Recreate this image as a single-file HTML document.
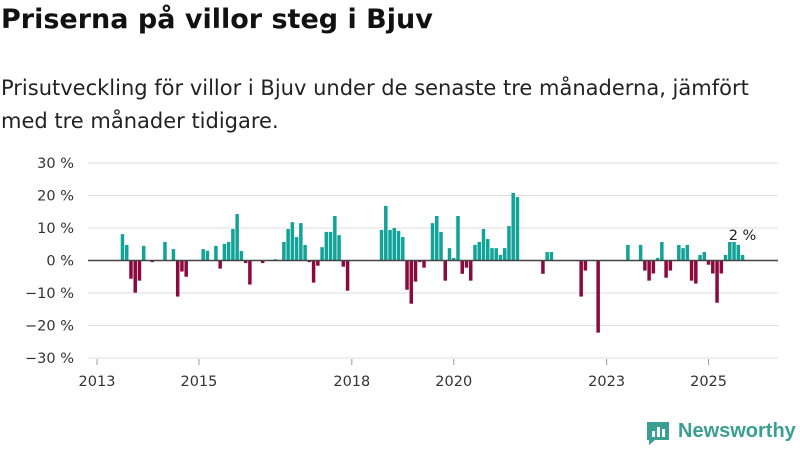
<!DOCTYPE html>
<html><head><meta charset="utf-8">
<style>
body{margin:0;width:800px;height:450px;background:#fff;font-family:"DejaVu Sans",sans-serif;overflow:hidden;position:relative}
h1{position:absolute;left:1px;top:4px;margin:0;font-size:27px;font-weight:bold;color:#111;white-space:nowrap}
p{position:absolute;left:1px;top:72px;margin:0;font-size:21px;line-height:33px;color:#222;width:772px}
svg{position:absolute;left:0;top:0}
.logo{position:absolute;left:645px;top:420px;font-family:"Liberation Sans",sans-serif;font-size:20px;font-weight:bold;color:#3a9e92}
</style></head><body>
<h1>Priserna på villor steg i Bjuv</h1>
<p>Prisutveckling för villor i Bjuv under de senaste tre månaderna, jämfört med tre månader tidigare.</p>
<svg id="chart" width="800" height="450"></svg>
<div class="logo"><svg width="26" height="26" style="position:absolute;left:0;top:0" viewBox="0 0 26 26"><path d="M2 2h22v18H10l-6 5v-5H2z" fill="#3a9e92"/><rect x="7" y="11" width="3" height="6" fill="#fff"/><rect x="12" y="7" width="3" height="10" fill="#fff"/><rect x="17" y="9" width="3" height="8" fill="#fff"/></svg><span style="margin-left:33px">Newsworthy</span></div>
<script>
const months=[6,7,8,9,10,11,13,16,18,19,20,21,25,26,28,29,30,31,32,33,34,35,36,39,42,44,45,46,47,48,49,50,51,52,53,54,55,56,57,58,59,67,68,69,70,71,72,73,74,75,76,77,79,80,81,82,83,84,85,86,87,88,89,90,91,92,93,94,95,96,97,98,99,105,106,107,114,115,118,125,128,129,130,131,132,133,134,135,137,138,139,140,141,142,143,144,145,146,147,148,149,150,151,152];
const values=[8.1,4.8,-5.6,-9.9,-6.2,4.5,-0.5,5.7,3.5,-11.1,-3.4,-5.0,3.5,3.0,4.5,-2.5,5.1,5.7,9.7,14.3,2.9,-0.8,-7.4,-0.8,0.4,5.7,9.7,11.8,7.2,11.5,4.8,-0.5,-6.8,-1.6,4.1,8.8,8.8,13.7,7.8,-1.9,-9.3,9.4,16.8,9.4,10,9.1,7.2,-9.0,-13.3,-6.5,-0.5,-2.2,11.5,13.7,8.8,-6.2,3.8,0.8,13.7,-4.1,-2.2,-6.2,4.8,5.7,9.7,6.6,3.8,3.8,1.7,3.8,10.6,20.8,19.5,-4.1,2.6,2.6,-11.1,-3.1,-22.2,4.8,4.8,-3.1,-6.2,-4.0,0.8,5.7,-5.3,-3.1,4.8,3.8,4.8,-6.2,-7.1,1.7,2.6,-1.3,-4.0,-13.0,-4.0,1.7,5.7,5.7,4.8,1.7];
const yTicks=[30,20,10,0,-10,-20,-30];
const yTickLabels=["30 %","20 %","10 %","0 %","−10 %","−20 %","−30 %"];
const xTickYears=[2013,2015,2018,2020,2023,2025];
const svg=document.getElementById('chart');
const NS='http://www.w3.org/2000/svg';
const x=m=>97+m*4.247;
const y=v=>260.5-v*3.25;
function mk(t,a){const e=document.createElementNS(NS,t);for(const k in a)e.setAttribute(k,a[k]);svg.appendChild(e);return e;}
yTicks.forEach((v,i)=>{
  if(v!==0){const g=mk('line',{x1:88,x2:778,y1:y(v),y2:y(v),stroke:'#ddd','stroke-width':1});
  
  }
  const t=mk('text',{x:74,y:y(v)+5,'text-anchor':'end','font-size':14.5,fill:'#333'});
  t.textContent=yTickLabels[i];
  
  
});
xTickYears.forEach(yr=>{
  const xx=x((yr-2013)*12);
  const l=mk('line',{x1:xx,x2:xx,y1:359,y2:365,stroke:'#999','stroke-width':1});
  
  
  const t=mk('text',{x:xx,y:386,'text-anchor':'middle','font-size':14.5,fill:'#333'});
  t.textContent=yr;
  
  
});
months.forEach((m,i)=>{
  const v=values[i];
  const r=mk('rect',{x:x(m)-1.75,width:3.5,y:Math.min(y(v),y(0)),height:Math.abs(y(v)-y(0)),fill:v>=0?'#11a398':'#8b0a3e'});
  
  
});
const z=mk('line',{x1:88,x2:778,y1:y(0),y2:y(0),stroke:'#444','stroke-width':1.5});


const li=values.length-1;
const lab=mk('text',{x:x(months[li]),y:y(values[li])-15,'text-anchor':'middle','font-size':14.5,fill:'#222'});
lab.textContent=Math.round(values[li])+' %';


</script>
</body></html>
